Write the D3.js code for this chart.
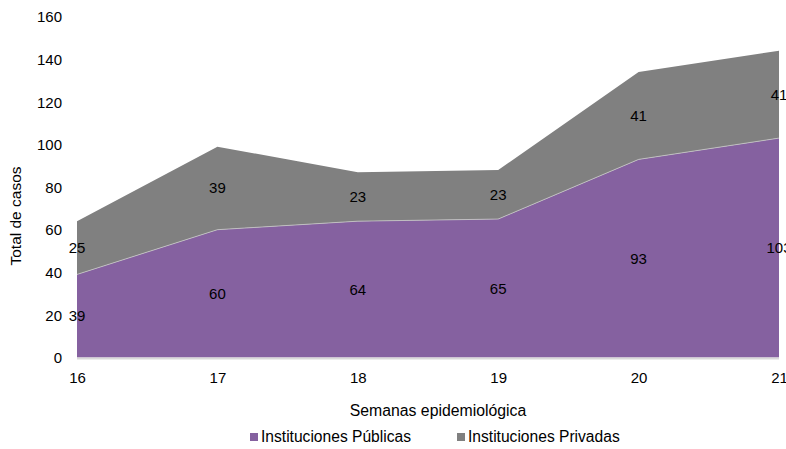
<!DOCTYPE html>
<html><head><meta charset="utf-8">
<script src="https://cdn.jsdelivr.net/npm/d3@7/dist/d3.min.js"></script>
<style>body{margin:0;background:#fff}svg{display:block;font-family:"Liberation Sans",Arial,sans-serif}</style>
</head><body>
<svg id="c" width="786" height="449"></svg>
<script>
const weeks = ["16","17","18","19","20","21"];
const publicas = [39, 60, 64, 65, 93, 103];
const privadas = [25, 39, 23, 23, 41, 41];
const yTicks = [0,20,40,60,80,100,120,140,160];
const seriesNames = ["Instituciones Públicas","Instituciones Privadas"];
const colors = ["#8561a0","#808080"];

const svg = d3.select("#c");
const x0=77,x1=779,yTop=16.7,yBot=357.5;
const x = d3.scalePoint().domain(weeks).range([x0,x1]);
const y = d3.scaleLinear().domain([0,160]).range([yBot,yTop]);

const rows = weeks.map((w,i)=>({w, pub:publicas[i], pri:privadas[i]}));
const stack = d3.stack().keys(["pub","pri"])(rows);

const area = d3.area().x(d=>x(d.data.w)).y0(d=>y(d[0])).y1(d=>y(d[1]));
svg.append("g").selectAll("path").data(stack).join("path")
  .attr("d",area).attr("fill",(d,i)=>colors[i]);
svg.append("path").datum(stack[0])
  .attr("d",d3.line().x(d=>x(d.data.w)).y(d=>y(d[1])))
  .attr("fill","none").attr("stroke","#c8c8c8").attr("stroke-width",0.8);

svg.append("line").attr("x1",x0).attr("x2",x1).attr("y1",y(0)+1).attr("y2",y(0)+1)
  .attr("stroke","#d9d9d9").attr("stroke-width",2);

const yAxis = d3.axisLeft(y).tickValues(yTicks).tickSize(0).tickPadding(0);
const gy = svg.append("g").attr("transform","translate(62,0)").call(yAxis);
gy.select(".domain").remove();
gy.selectAll("text").attr("font-size",15).attr("fill","#000").attr("font-family","Liberation Sans, Arial, sans-serif").attr("dy","0.35em");

const xAxis = d3.axisBottom(x).tickSize(0).tickPadding(0);
const gx = svg.append("g").attr("transform",`translate(0,${yBot+20})`).call(xAxis);
gx.select(".domain").remove();
gx.selectAll("text").attr("font-size",15).attr("fill","#000").attr("font-family","Liberation Sans, Arial, sans-serif").attr("dy","0.35em");

stack.forEach((s,si)=>{
  svg.append("g").selectAll("text").data(s).join("text")
    .attr("x",d=>x(d.data.w)).attr("y",d=>y((d[0]+d[1])/2))
    .attr("text-anchor","middle").attr("dy","0.35em")
    .attr("font-size",15).attr("fill","#000")
    .text(d=>d.data[si===0?"pub":"pri"]);
});

svg.append("text").attr("x",(x0+x1)/2+10).attr("y",410).attr("text-anchor","middle")
  .attr("dy","0.35em").attr("font-size",15.8).text("Semanas epidemiológica");
svg.append("text").attr("transform","translate(16,216) rotate(-90)")
  .attr("text-anchor","middle").attr("dy","0.35em").attr("font-size",15.5).text("Total de casos");

const leg = svg.append("g");
const legX = [250,457];
seriesNames.forEach((n,i)=>{
  leg.append("rect").attr("x",legX[i]).attr("y",433).attr("width",8).attr("height",8).attr("fill",colors[i]);
  leg.append("text").attr("x",legX[i]+11).attr("y",437).attr("dy","0.35em")
    .attr("font-size",15.6).text(n);
});
</script>
</body></html>
